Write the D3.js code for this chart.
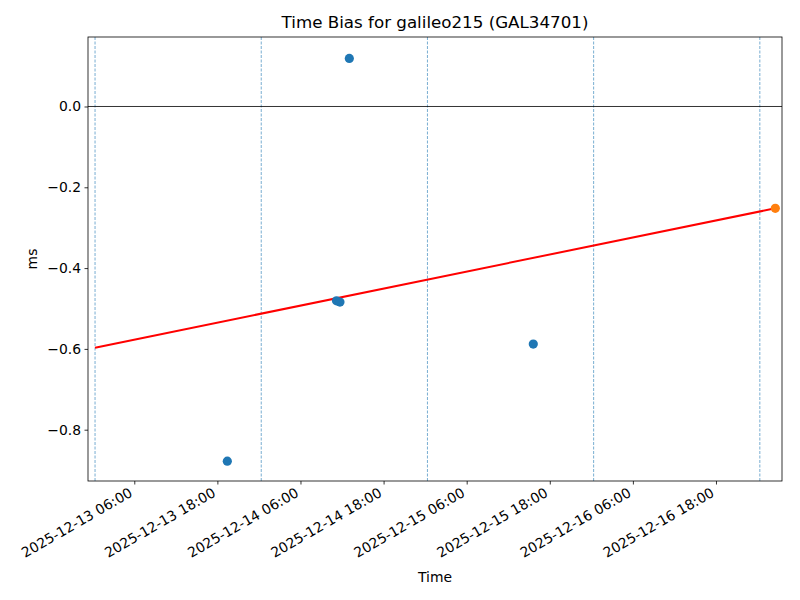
<!DOCTYPE html>
<html>
<head>
<meta charset="utf-8">
<script src="https://cdn.jsdelivr.net/npm/d3@7"></script>
<style>
  body { margin: 0; background: #fff; }
  text { font-family: "DejaVu Sans", sans-serif; fill: #000; }
</style>
</head>
<body>
<svg id="chart" width="800" height="600"></svg>
<script>
// ---- data ----
const measuredTimes = ["2025-12-13T19:26Z", "2025-12-14T11:12Z", "2025-12-14T11:42Z", "2025-12-14T13:03Z", "2025-12-15T15:37Z"];
const measuredBias = [-0.878, -0.481, -0.484, 0.119, -0.588];
const predictedTimes = ["2025-12-17T02:34Z"];
const predictedBias = [-0.252];
const fitTimes = ["2025-12-13T00:20Z", "2025-12-17T02:34Z"];
const fitBias = [-0.597, -0.252];
const dayMarkers = ["2025-12-13T00:20Z", "2025-12-14T00:20Z", "2025-12-15T00:20Z", "2025-12-16T00:20Z", "2025-12-17T00:20Z"];
const xTickLabels = ["2025-12-13 06:00", "2025-12-13 18:00", "2025-12-14 06:00", "2025-12-14 18:00",
                     "2025-12-15 06:00", "2025-12-15 18:00", "2025-12-16 06:00", "2025-12-16 18:00"];
const yTicks = [0.0, -0.2, -0.4, -0.6, -0.8];
const xDomain = ["2025-12-12T23:19Z", "2025-12-17T03:32Z"];
const yDomain = [-0.927, 0.172];

const svg = d3.select("#chart");
const L = 88, R = 782, T = 37, B = 481;
const parseT = s => new Date(s);
const x = d3.scaleUtc().domain(xDomain.map(parseT)).range([L, R]);
const y = d3.scaleLinear().domain(yDomain).range([B, T]);

// day markers
svg.append("g").selectAll("line").data(dayMarkers).join("line")
  .attr("x1", d => x(parseT(d))).attr("x2", d => x(parseT(d)))
  .attr("y1", T).attr("y2", B)
  .attr("stroke", "#1f77b4").attr("stroke-opacity", 0.75)
  .attr("stroke-width", 0.8).attr("stroke-dasharray", "3,1.5");

// zero line
svg.append("line").attr("x1", L).attr("x2", R).attr("y1", y(0)).attr("y2", y(0))
  .attr("stroke", "#000").attr("stroke-width", 0.8);

// fit line
svg.append("path")
  .datum(fitTimes.map((t, i) => [parseT(t), fitBias[i]]))
  .attr("fill", "none").attr("stroke", "#ff0000").attr("stroke-width", 2)
  .attr("d", d3.line().x(d => x(d[0])).y(d => y(d[1])));

// measured points
svg.append("g").selectAll("circle").data(measuredTimes.map((t, i) => [parseT(t), measuredBias[i]])).join("circle")
  .attr("cx", d => x(d[0])).attr("cy", d => y(d[1])).attr("r", 4.6).attr("fill", "#1f77b4");

// predicted point
svg.append("g").selectAll("circle").data(predictedTimes.map((t, i) => [parseT(t), predictedBias[i]])).join("circle")
  .attr("cx", d => x(d[0])).attr("cy", d => y(d[1])).attr("r", 4.6).attr("fill", "#ff7f0e");

// x axis
const xTickDates = xTickLabels.map(s => new Date(s.replace(" ", "T") + "Z"));
const fmt = d3.utcFormat("%Y-%m-%d %H:%M");
const xAxis = svg.append("g").attr("transform", `translate(0,${B})`)
  .call(d3.axisBottom(x).tickValues(xTickDates).tickFormat(fmt).tickSize(3.5).tickPadding(3.5));
xAxis.select(".domain").remove();
xAxis.selectAll(".tick line").attr("stroke", "#000").attr("stroke-width", 0.8);
xAxis.selectAll(".tick text")
  .attr("font-size", "13.9px")
  .attr("font-family", "DejaVu Sans")
  .attr("text-anchor", "end")
  .attr("dy", null).attr("y", 0)
  .attr("transform", "translate(-6.5,5.5) rotate(-30)")
  .attr("dominant-baseline", "hanging");

// y axis
const yAxis = svg.append("g").attr("transform", `translate(${L},0)`)
  .call(d3.axisLeft(y).tickValues(yTicks).tickFormat(d => d3.format(".1f")(d).replace("-", "\u2212")).tickSize(3.5).tickPadding(3.5));
yAxis.select(".domain").remove();
yAxis.selectAll(".tick line").attr("stroke", "#000").attr("stroke-width", 0.8);
yAxis.selectAll(".tick text").attr("font-size", "13.9px").attr("font-family", "DejaVu Sans");

// frame
svg.append("rect").attr("x", L).attr("y", T).attr("width", R - L).attr("height", B - T)
  .attr("fill", "none").attr("stroke", "#000").attr("stroke-width", 0.8);

// labels
svg.append("text").attr("x", (L + R) / 2).attr("y", 28).attr("text-anchor", "middle")
  .attr("font-size", "16.7px").text("Time Bias for galileo215 (GAL34701)");
svg.append("text").attr("x", (L + R) / 2).attr("y", 582).attr("text-anchor", "middle")
  .attr("font-size", "13.9px").text("Time");
svg.append("text").attr("transform", `translate(37,${(T + B) / 2}) rotate(-90)`).attr("text-anchor", "middle")
  .attr("font-size", "13.9px").text("ms");
</script>
</body>
</html>
